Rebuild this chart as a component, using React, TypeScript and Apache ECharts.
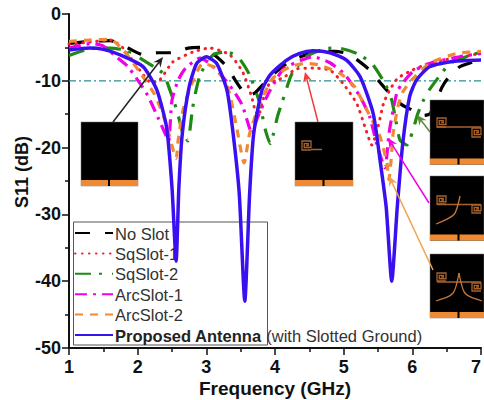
import React, { useEffect, useRef } from "react";
import * as echarts from "echarts";

const FONT = '"Liberation Sans", Arial, sans-serif';
const xTicks = { min: 1, max: 7, interval: 1 };
const yTicks = { min: -50, max: 0, interval: 10 };
const threshold = [[1, -10], [7, -10]];

const noSlot = [[1,-4.4],[1.3,-4.1],[1.6,-4.0],[1.86,-5.1],[2.08,-6.1],[2.3,-5.8],[2.52,-5.8],[2.74,-5.1],[2.95,-5.0],[3.15,-6.4],[3.3,-7.9],[3.42,-9.9],[3.52,-11.4],[3.6,-12.2],[3.71,-11.8],[3.82,-10.6],[4.0,-8.8],[4.2,-7.2],[4.4,-6.3],[4.6,-5.6],[4.87,-5.6],[5.05,-5.9],[5.24,-7.2],[5.38,-8.4],[5.55,-10.5],[5.7,-12.2],[5.85,-13.6],[6.0,-14.4],[6.15,-15.2],[6.25,-15],[6.35,-13],[6.43,-11],[6.52,-9.6],[6.69,-7.9],[6.88,-7.2],[7,-6.8]];
const sqSlot1 = [[1,-4.5],[1.3,-4.2],[1.6,-3.9],[1.77,-4.9],[2.03,-8.4],[2.2,-10.3],[2.32,-9.9],[2.51,-7.2],[2.8,-5.7],[3.05,-5.1],[3.34,-6.1],[3.53,-8.7],[3.66,-12.4],[3.71,-14.4],[3.76,-15.2],[3.82,-13],[3.93,-10.2],[4.11,-9.6],[4.32,-8.2],[4.55,-8.1],[4.8,-8.4],[4.99,-10.4],[5.19,-13.4],[5.31,-16.9],[5.41,-19.6],[5.5,-16.9],[5.58,-13.4],[5.67,-11.4],[5.79,-9.6],[6.0,-8.4],[6.3,-7.2],[6.84,-6.2],[7,-5.8]];
const sqSlot2 = [[1,-6.2],[1.3,-5.2],[1.6,-5.1],[1.85,-5.5],[2.08,-6.9],[2.37,-8.9],[2.47,-11.4],[2.57,-14.4],[2.66,-17.9],[2.73,-19],[2.79,-14.9],[2.82,-12.9],[2.91,-9.1],[3.1,-6.1],[3.3,-5.7],[3.46,-6.4],[3.63,-9.1],[3.78,-13.4],[3.85,-17],[3.93,-19.4],[4.04,-15.2],[4.14,-12.1],[4.24,-9.1],[4.45,-6.4],[4.73,-5.2],[4.92,-5.1],[5.19,-5.9],[5.41,-7.4],[5.6,-10.4],[5.7,-12.9],[5.75,-15.4],[5.82,-18.9],[5.92,-19.6],[6.0,-17.7],[6.08,-14.9],[6.2,-12.1],[6.35,-9.9],[6.55,-7.4],[6.84,-6.2],[7,-5.7]];
const arcSlot1 = [[1,-5.1],[1.33,-4.4],[1.5,-4.8],[1.71,-6.6],[1.86,-7.9],[2.13,-11.9],[2.3,-15.6],[2.4,-17.9],[2.45,-19],[2.5,-12.9],[2.59,-9.9],[2.7,-8.1],[2.91,-6.6],[3.05,-7.4],[3.24,-9.4],[3.39,-11.4],[3.52,-13.6],[3.63,-17.1],[3.67,-18],[3.73,-15.9],[3.88,-12.4],[4.04,-9.4],[4.14,-8.1],[4.39,-6.9],[4.55,-6.4],[4.8,-7.3],[5.02,-9.1],[5.24,-12.4],[5.38,-15.4],[5.48,-19.4],[5.6,-23],[5.66,-17.9],[5.72,-14.4],[5.79,-11.4],[6.0,-8.7],[6.25,-7.4],[6.69,-6.4],[7,-5.9]];
const arcSlot2 = [[1,-4.1],[1.3,-3.9],[1.6,-3.8],[1.79,-5.4],[2.03,-8.7],[2.25,-12.1],[2.42,-16.6],[2.56,-21.6],[2.59,-18.9],[2.66,-14.4],[2.79,-10.4],[2.95,-7.4],[3.13,-8.1],[3.31,-10.9],[3.44,-16.9],[3.55,-22.3],[3.63,-17.9],[3.78,-13.4],[3.97,-9.6],[4.22,-7.9],[4.44,-7.4],[4.63,-7.6],[4.95,-8.9],[5.16,-10.9],[5.34,-14.4],[5.53,-18.4],[5.63,-22.3],[5.66,-24.8],[5.69,-21.9],[5.72,-17.9],[5.79,-13.9],[5.86,-11.7],[5.99,-9.9],[6.25,-7.4],[6.65,-5.9],[7,-5.6]];
const proposed = [[1,-5.4],[1.3,-5.1],[1.5,-5.3],[1.74,-6.1],[2.08,-7.9],[2.28,-11.4],[2.42,-16.9],[2.5,-26],[2.56,-37],[2.6,-26],[2.65,-17.9],[2.75,-10.9],[2.86,-7.4],[3.0,-6.4],[3.15,-7.4],[3.3,-11.4],[3.39,-17.9],[3.48,-27],[3.56,-43],[3.63,-27],[3.69,-17.9],[3.81,-11.4],[3.93,-9.1],[4.17,-6.9],[4.36,-5.9],[4.55,-5.5],[4.8,-5.8],[5.04,-6.9],[5.24,-9.4],[5.43,-14.9],[5.53,-21.9],[5.62,-29],[5.7,-40],[5.78,-29],[5.86,-19.4],[5.96,-12.4],[6.06,-9.9],[6.25,-7.9],[6.59,-7.1],[7,-6.9]];

const legendNames = ["No Slot", "SqSlot-1", "SqSlot-2", "ArcSlot-1", "ArcSlot-2", "Proposed Antenna"];
const legendSuffix = " (with Slotted Ground)";

const ORANGE = "#f08a32";
const BROWN = "#a8622c";

function spiral(x: number, y: number, w: number, h: number) {
  const points = [
    [x + w, y + h], [x, y + h], [x, y], [x + w, y], [x + w, y + h * 0.72],
    [x + w * 0.25, y + h * 0.72], [x + w * 0.25, y + h * 0.3], [x + w * 0.7, y + h * 0.3], [x + w * 0.7, y + h * 0.5], [x + w * 0.45, y + h * 0.5],
  ];
  return { type: "polyline", z: 21, shape: { points }, style: { stroke: BROWN, lineWidth: 1.3, fill: "none" } };
}
function hline(x1: number, x2: number, y: number) {
  return { type: "line", z: 21, shape: { x1, y1: y, x2, y2: y }, style: { stroke: BROWN, lineWidth: 1.5 } };
}
function curve(x1: number, y1: number, x2: number, y2: number, cx: number, cy: number) {
  return { type: "bezierCurve", z: 21, shape: { x1, y1, x2, y2, cpx1: cx, cpy1: cy, cpx2: cx, cpy2: cy }, style: { stroke: "#c8763a", lineWidth: 1.3, fill: "none" } };
}
function inset(x: number, y: number, w: number, h: number, slit: number) {
  return [
    { type: "rect", z: 20, shape: { x, y, width: w, height: h }, style: { fill: "#000", stroke: "#777", lineWidth: 0.5 } },
    { type: "rect", z: 21, shape: { x, y: y + h - 6, width: w, height: 6 }, style: { fill: ORANGE } },
    { type: "rect", z: 22, shape: { x: slit - 1, y: y + h - 10, width: 2, height: 10 }, style: { fill: "#000" } },
  ];
}
function arrow(x1: number, y1: number, x2: number, y2: number, color: string) {
  const a = Math.atan2(y2 - y1, x2 - x1);
  const l = 11, s = 0.42;
  const p1 = [x2 - l * Math.cos(a - s), y2 - l * Math.sin(a - s)];
  const p2 = [x2 - l * Math.cos(a + s), y2 - l * Math.sin(a + s)];
  const p3 = [x2 - l * 0.6 * Math.cos(a), y2 - l * 0.6 * Math.sin(a)];
  return [
    { type: "line", z: 25, shape: { x1, y1, x2: p3[0], y2: p3[1] }, style: { stroke: color, lineWidth: 1.5 } },
    { type: "polygon", z: 25, shape: { points: [[x2, y2], p1, p3, p2] }, style: { fill: color } },
  ];
}

function line(name: string, data: number[][], color: string, width: number, type: any, cap: string = "butt") {
  return { name, type: "line", data, smooth: 0.2, showSymbol: false, symbol: "none", lineStyle: { color, width, type, cap }, itemStyle: { color } };
}

export default function App() {
  const ref = useRef<HTMLDivElement>(null);
  useEffect(() => {
    document.body.style.margin = "0";
    const chart = echarts.init(ref.current!, undefined, { renderer: "svg" });
    chart.setOption({
      animation: false,
      backgroundColor: "#fff",
      textStyle: { fontFamily: FONT },
      grid: { left: 69, right: 3, top: 14, bottom: 52, outerBoundsMode: "none" },
      xAxis: {
        type: "value", ...xTicks, name: "Frequency (GHz)", nameLocation: "middle", nameGap: 31, nameMoveOverlap: false,
        nameTextStyle: { fontFamily: FONT, fontSize: 19, fontWeight: "bold", color: "#111" },
        axisLine: { show: true, onZero: false, lineStyle: { color: "#111", width: 2 } },
        axisTick: { show: true, length: 7, lineStyle: { color: "#111", width: 1.5 } },
        minorTick: { show: true, splitNumber: 2, length: 4, lineStyle: { color: "#111", width: 1.5 } },
        axisLabel: { fontFamily: FONT, fontSize: 18, fontWeight: "bold", color: "#111", margin: 10, showMaxLabel: true, alignMaxLabel: "right" },
        splitLine: { show: false },
      },
      yAxis: {
        type: "value", ...yTicks, name: "S11 (dB)", nameLocation: "middle", nameGap: 38, nameMoveOverlap: false,
        nameTextStyle: { fontFamily: FONT, fontSize: 18, fontWeight: "bold", color: "#111", padding: [0, 0, 0, 18] },
        axisLine: { show: true, onZero: false, lineStyle: { color: "#111", width: 2 } },
        axisTick: { show: true, length: 7, lineStyle: { color: "#111", width: 1.5 } },
        minorTick: { show: true, splitNumber: 2, length: 4, lineStyle: { color: "#111", width: 1.5 } },
        axisLabel: { fontFamily: FONT, fontSize: 18, fontWeight: "bold", color: "#111", margin: 8 },
        splitLine: { show: false },
      },
      legend: {
        z: 1,
        orient: "vertical", left: 69, top: 220, itemWidth: 38, itemHeight: 10, itemGap: 3.4,
        data: legendNames,
        itemStyle: { opacity: 0, color: "transparent", borderColor: "transparent" },
        formatter: (n: string) => n === "Proposed Antenna" ? `{b|${n}}{r|${legendSuffix}}` : n,
        textStyle: {
          fontFamily: FONT, fontSize: 16.5, color: "#333", padding: [0, 0, 0, -3], height: 16,
          rich: {
            b: { fontFamily: FONT, fontSize: 16.5, fontWeight: "bold", color: "#222" },
            r: { fontFamily: FONT, fontSize: 16.5, color: "#333" },
          },
        },
      },
      series: [
        { name: "-10 dB", type: "line", data: threshold, showSymbol: false, symbol: "none", lineStyle: { color: "#2a8f8f", width: 1.2, type: [7, 3, 2, 3] } },
        line(legendNames[0], noSlot, "#000", 3.2, [15, 15]),
        line(legendNames[1], sqSlot1, "#f0202a", 3, [0.5, 6.5], "round"),
        line(legendNames[2], sqSlot2, "#1e8a14", 3.2, [16, 8, 3, 10]),
        line(legendNames[3], arcSlot1, "#f000e6", 3.2, [12, 6, 3, 6]),
        line(legendNames[4], arcSlot2, ORANGE, 3.2, [8, 7]),
        line(legendNames[5], proposed, "#3a10f0", 3.5, "solid"),
      ],
      graphic: [
        { type: "rect", z: 0, silent: true, shape: { x: 73.5, y: 222, width: 194, height: 123 }, style: { fill: "none", stroke: "#555", lineWidth: 1 } },
        ...inset(81, 122, 57, 64, 109),
        ...inset(295, 122, 58, 64, 323.5),
        spiral(302, 141, 9, 9), hline(311, 322, 149.5),
        ...inset(430, 100, 54, 64.5, 458.5),
        spiral(437, 118, 9, 9), hline(437, 481, 127), spiral(472, 128, 9, 9),
        ...inset(430, 176, 54, 64.5, 458.5),
        spiral(437, 196, 9, 8), hline(437, 481, 204.5), spiral(472, 205, 9, 8),
        curve(460, 196, 436, 224, 456, 216),
        ...inset(430, 254, 54, 64, 458.5),
        spiral(437, 273, 9, 8), hline(437, 481, 282), spiral(472, 283, 9, 8),
        curve(459, 273, 436, 301, 455, 295),
        curve(459, 273, 482, 301, 463, 295),
        ...arrow(113, 122, 163, 57, "#222"),
        ...arrow(318, 122, 305, 72, "#f03a3a"),
        ...arrow(430, 132, 417, 115, "#5f8a3a"),
        ...arrow(429, 203, 388, 138, "#f000e6"),
        ...arrow(433, 270, 389, 176, "#f0a050"),
      ],
    });
    return () => chart.dispose();
  }, []);
  return <div ref={ref} style={{ width: 484, height: 400 }} />;
}
